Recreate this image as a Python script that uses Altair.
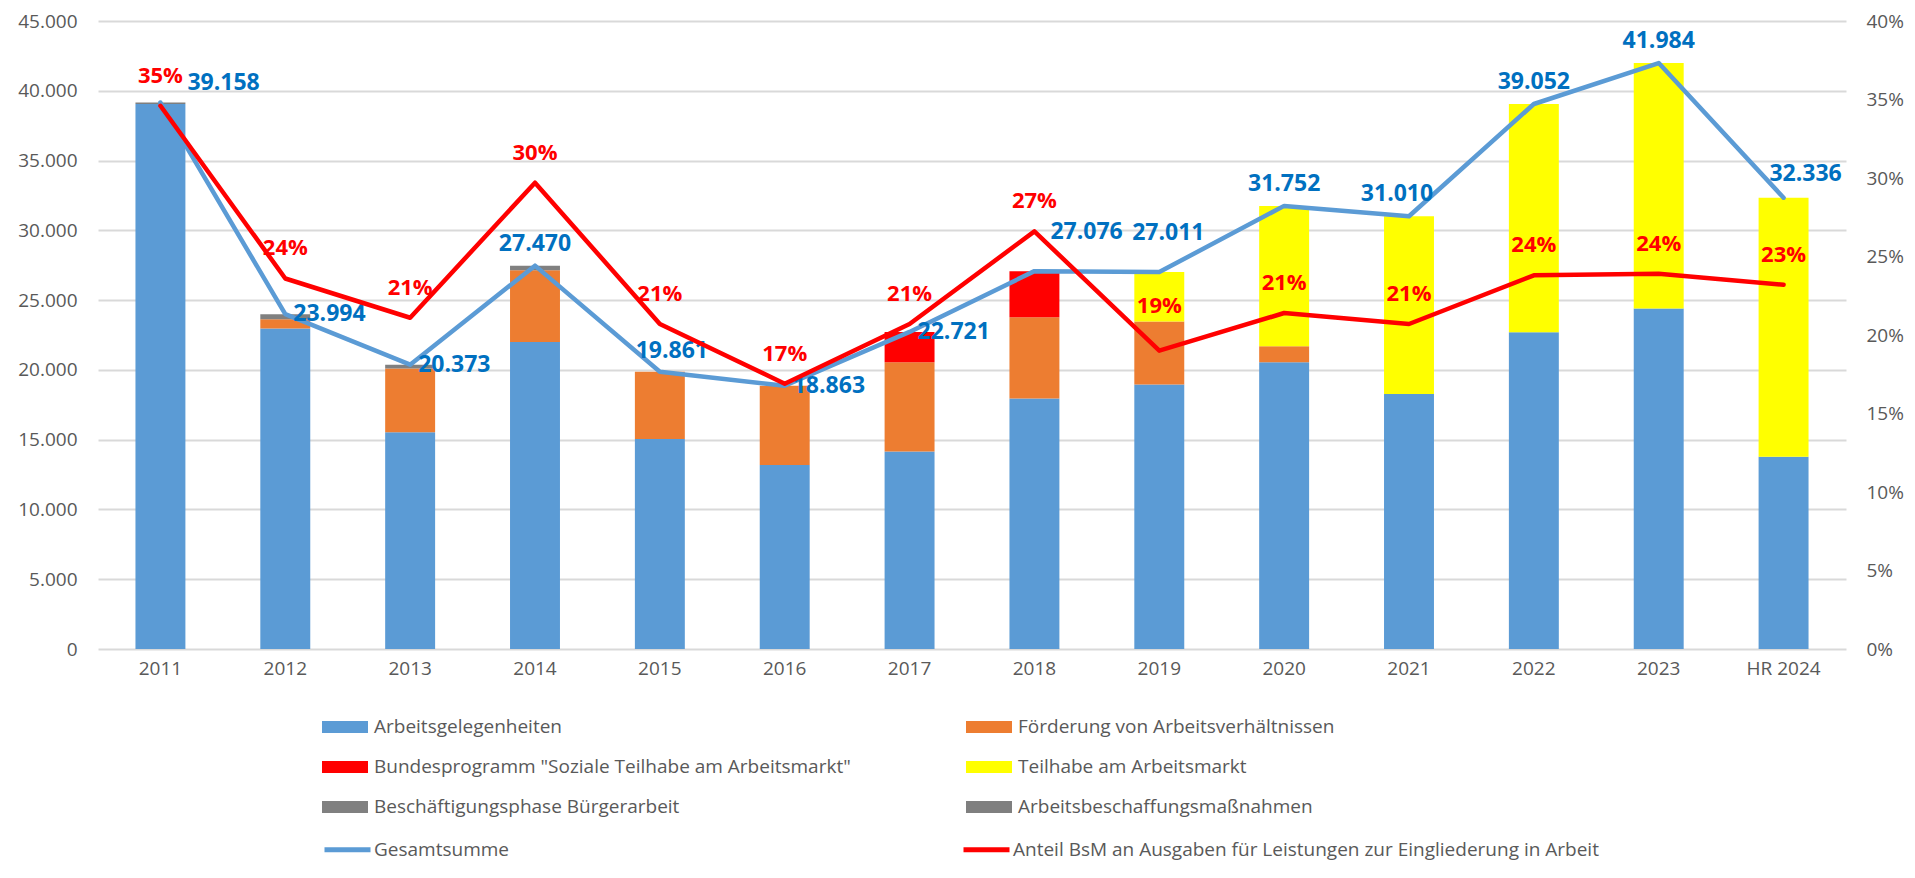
import altair as alt
import pandas as pd

FONT = "Open Sans"

YEARS = ["2011", "2012", "2013", "2014", "2015", "2016", "2017",
         "2018", "2019", "2020", "2021", "2022", "2023", "HR 2024"]

ARBEITSGELEGENHEITEN = [39058, 22970, 15530, 21990, 15050, 13190, 14160,
                        17950, 18950, 20550, 18280, 22700, 24390, 13780]
FOERDERUNG = [0, 650, 4570, 5150, 4811, 5673, 6390, 5830, 4520, 1150, 0, 0, 0, 0]
BUNDESPROGRAMM = [0, 0, 0, 0, 0, 0, 2171, 3296, 0, 0, 0, 0, 0, 0]
TEILHABE = [0, 0, 0, 0, 0, 0, 0, 0, 3541, 10052, 12730, 16352, 17594, 18556]
BUERGERARBEIT = [0, 374, 273, 330, 0, 0, 0, 0, 0, 0, 0, 0, 0, 0]
ABM = [100, 0, 0, 0, 0, 0, 0, 0, 0, 0, 0, 0, 0, 0]

GESAMTSUMME = [39158, 23994, 20373, 27470, 19861, 18863, 22721,
               27076, 27011, 31752, 31010, 39052, 41984, 32336]
ANTEIL = [0.346, 0.236, 0.211, 0.297, 0.207, 0.169, 0.207,
          0.266, 0.190, 0.214, 0.207, 0.238, 0.239, 0.232]

BAR_SERIES = ["Arbeitsgelegenheiten",
              "Förderung von Arbeitsverhältnissen",
              'Bundesprogramm "Soziale Teilhabe am Arbeitsmarkt"',
              "Teilhabe am Arbeitsmarkt",
              "Beschäftigungsphase Bürgerarbeit",
              "Arbeitsbeschaffungsmaßnahmen"]
BAR_VALUES = [ARBEITSGELEGENHEITEN, FOERDERUNG, BUNDESPROGRAMM, TEILHABE,
              BUERGERARBEIT, ABM]
BAR_COLORS = ["#5B9BD5", "#ED7D31", "#FF0000", "#FFFF00", "#808080", "#7F7F7F"]

LINE_SERIES = ["Gesamtsumme",
               "Anteil BsM an Ausgaben für Leistungen zur Eingliederung in Arbeit"]
LINE_COLORS = ["#5B9BD5", "#FF0000"]

# legend grid is filled column by column: reorder so rows read like the original
LEGEND_ORDER = [0, 2, 4, 1, 3, 5]
LEGEND_DOMAIN = [BAR_SERIES[i] for i in LEGEND_ORDER]
LEGEND_RANGE = [BAR_COLORS[i] for i in LEGEND_ORDER]

# label placement groups (style only)
TOTAL_LABEL_GROUPS = [
    (["2012", "2013", "2016", "2017"], "left", 8, 0),
    (["2014", "2020", "2022", "2023"], "center", 0, -22),
    (["2021"], "center", -12, -22),
    (["2015"], "center", 12, -21),
    (["HR 2024"], "center", 22, -24),
    (["2011"], "left", 27, -20),
    (["2018"], "left", 16, -39),
    (["2019"], "center", 9, -39),
]
PCT_RAISED = ["2019"]

GREY = "#595959"

rows = []
for k, (name, vals) in enumerate(zip(BAR_SERIES, BAR_VALUES)):
    for year, v in zip(YEARS, vals):
        if v > 0:
            rows.append({"Jahr": year, "Reihe": name, "Wert": v, "Stapel": k})
bars_df = pd.DataFrame(rows)

lines_df = pd.DataFrame({
    "Jahr": YEARS,
    "Gesamt": GESAMTSUMME,
    "Anteil": ANTEIL,
    "GesamtText": [f"{v:,}".replace(",", ".") for v in GESAMTSUMME],
    "LinieG": LINE_SERIES[0],
    "LinieA": LINE_SERIES[1],
})

x_enc = alt.X("Jahr:N", sort=YEARS,
              scale=alt.Scale(domain=YEARS, paddingInner=0.6, paddingOuter=0.3),
              axis=alt.Axis(title=None, labelAngle=0, domain=False, ticks=False,
                            labelPadding=10, labelFontSize=19, labelColor=GREY,
                            labelFont=FONT))

left_scale = alt.Scale(domain=[0, 45000], nice=False, zero=True)
left_axis = alt.Axis(title=None, values=list(range(0, 45001, 5000)),
                     labelExpr="replace(format(datum.value, ','), ',', '.')",
                     grid=True, gridColor="#D9D9D9", gridWidth=2,
                     domain=False, ticks=False, labelPadding=21,
                     labelFontSize=19, labelColor=GREY, labelFont=FONT)

right_scale = alt.Scale(domain=[0, 0.4], nice=False, zero=True)
right_axis = alt.Axis(title=None, orient="right",
                      values=[round(0.05 * i, 2) for i in range(9)],
                      format=".0%", grid=False, domain=False, ticks=False,
                      labelPadding=20, labelFontSize=19, labelColor=GREY,
                      labelFont=FONT)

RECT_PATH = "M-1,-0.26H1V0.26H-1Z"

bars = alt.Chart(bars_df).mark_bar().encode(
    x=x_enc,
    y=alt.Y("Wert:Q", stack="zero", scale=left_scale, axis=left_axis),
    fill=alt.Fill("Reihe:N",
                  scale=alt.Scale(domain=LEGEND_DOMAIN, range=LEGEND_RANGE),
                  legend=alt.Legend(title=None, orient="none", legendX=224,
                                    legendY=683, columns=2, columnPadding=115,
                                    rowPadding=7, symbolType=RECT_PATH,
                                    symbolSize=2116, symbolStrokeWidth=0,
                                    labelFontSize=19, labelColor=GREY,
                                    labelFont=FONT, labelOffset=6,
                                    labelLimit=900)),
    order=alt.Order("Stapel:Q", sort="ascending"),
)

blue_line = alt.Chart(lines_df).mark_line(strokeWidth=4.5, strokeJoin="round",
                                           strokeCap="round").encode(
    x=x_enc,
    y=alt.Y("Gesamt:Q", scale=left_scale, axis=left_axis),
    stroke=alt.Stroke("LinieG:N",
                      scale=alt.Scale(domain=LINE_SERIES, range=LINE_COLORS),
                      legend=alt.Legend(title=None, orient="none", legendX=224,
                                        legendY=803, columns=2,
                                        columnPadding=443, symbolType="stroke",
                                        symbolSize=2116, symbolStrokeWidth=5,
                                        labelFontSize=19, labelColor=GREY,
                                        labelFont=FONT, labelOffset=1,
                                        labelLimit=900)),
)

total_labels = []
for years, align, dx, dy in TOTAL_LABEL_GROUPS:
    total_labels.append(
        alt.Chart(lines_df).transform_filter(
            alt.FieldOneOfPredicate(field="Jahr", oneOf=years)
        ).mark_text(align=align, baseline="middle", dx=dx, dy=dy,
                    fontSize=23, fontWeight="bold", color="#0070C0",
                    font=FONT).encode(
            x=x_enc,
            y=alt.Y("Gesamt:Q", scale=left_scale, axis=left_axis),
            text="GesamtText:N",
        )
    )

left_layer = alt.layer(bars, blue_line, *total_labels)

red_line = alt.Chart(lines_df).mark_line(strokeWidth=4.5, strokeJoin="round",
                                          strokeCap="round").encode(
    x=x_enc,
    y=alt.Y("Anteil:Q", scale=right_scale, axis=right_axis),
    stroke=alt.Stroke("LinieA:N",
                      scale=alt.Scale(domain=LINE_SERIES, range=LINE_COLORS)),
)

pct_normal = alt.Chart(lines_df).transform_filter(
    ~alt.FieldOneOfPredicate(field="Jahr", oneOf=PCT_RAISED)
).mark_text(align="center", baseline="middle", dy=-30, fontSize=22,
            fontWeight="bold", color="#FF0000", font=FONT).encode(
    x=x_enc,
    y=alt.Y("Anteil:Q", scale=right_scale, axis=right_axis),
    text=alt.Text("Anteil:Q", format=".0%"),
)
pct_raised = alt.Chart(lines_df).transform_filter(
    alt.FieldOneOfPredicate(field="Jahr", oneOf=PCT_RAISED)
).mark_text(align="center", baseline="middle", dy=-45, fontSize=22,
            fontWeight="bold", color="#FF0000", font=FONT).encode(
    x=x_enc,
    y=alt.Y("Anteil:Q", scale=right_scale, axis=right_axis),
    text=alt.Text("Anteil:Q", format=".0%"),
)

right_layer = alt.layer(red_line, pct_normal, pct_raised)

chart = alt.layer(left_layer, right_layer).resolve_scale(
    y="independent"
).properties(
    width=1748, height=628,
    autosize=alt.AutoSizeParams(type="none"),
    padding={"left": 90, "top": 13, "right": 61, "bottom": 221},
    background="white",
).configure_view(stroke=None)

chart.save("out.html", embed_options={"renderer": "svg", "actions": False})
